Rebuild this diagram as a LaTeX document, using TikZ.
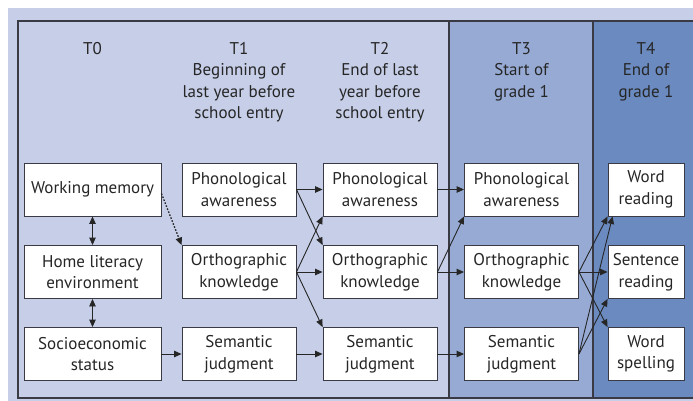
\documentclass[tikz,border=0pt]{standalone}
\usepackage{fontspec}
\setmainfont{PT Sans}
\usepackage{xcolor}
\usepackage{tikz}
\usetikzlibrary{arrows.meta,positioning}

\definecolor{paleblue}{RGB}{198,206,232}
\definecolor{midblue}{RGB}{150,170,212}
\definecolor{deepblue}{RGB}{106,138,192}
\definecolor{frameline}{RGB}{58,58,68}

\begin{document}
\begin{tikzpicture}
[x=1pt,y=-1pt,
 txt/.style={font=\fontsize{17}{21.5}\selectfont,text=black!85,align=center},
 box/.style={txt,rectangle,draw=frameline,line width=0.9pt,fill=white,minimum height=53pt,inner sep=1pt},
 wide/.style={box,minimum width=137pt},
 mid/.style={box,minimum width=114pt},
 slim/.style={box,minimum width=76pt},
 head/.style={txt,anchor=north,inner sep=0pt},
 arr/.style={draw=black!85,line width=0.9pt,-{Triangle[length=7.5pt,width=6.5pt]}},
 twoway/.style={arr,{Triangle[length=7.5pt,width=6.5pt]}-{Triangle[length=7.5pt,width=6.5pt]}}];
\useasboundingbox (0,0) rectangle (693,401);
\fill[paleblue] (8,8) rectangle (693,401);
\fill[midblue] (449,21) rectangle (593,398);
\fill[deepblue] (593,21) rectangle (693,398);
\draw[frameline,line width=1.4pt] (693,21) -- (18,21) -- (18,398) -- (693,398);
\draw[frameline,line width=1.2pt] (449,21) -- (449,398);
\draw[frameline,line width=1.2pt] (593,21) -- (593,398);

% time points
\node[head] (h0) at (92.5,42) {T0};
\node[head] (h1) at (239,42) {T1\\Beginning of\\last year before\\school entry};
\node[head] (h2) at (380,42) {T2\\End of last\\year before\\school entry};
\node[head] (h3) at (521.5,42) {T3\\Start of\\grade 1};
\node[head] (h4) at (646,42) {T4\\End of\\grade 1};

% T0
\node[wide] (wm) at (92.5,189.5) {Working memory};
\node[wide] (hl) at (92.5,272) {Home literacy\\environment};
\node[wide] (ses) at (92.5,354) {Socioeconomic\\status};
% T1
\node[mid] (pa1) at (239,189.5) {Phonological\\awareness};
\node[mid] (ok1) at (239,272) {Orthographic\\knowledge};
\node[mid] (sj1) at (239,354) {Semantic\\judgment};
% T2
\node[mid] (pa2) at (380,189.5) {Phonological\\awareness};
\node[mid] (ok2) at (380,272) {Orthographic\\knowledge};
\node[mid] (sj2) at (380,354) {Semantic\\judgment};
% T3
\node[mid] (pa3) at (521.5,189.5) {Phonological\\awareness};
\node[mid] (ok3) at (521.5,272) {Orthographic\\knowledge};
\node[mid] (sj3) at (521.5,354) {Semantic\\judgment};
% T4
\node[slim] (wr) at (646,189.5) {Word\\reading};
\node[slim] (sr) at (646,272) {Sentence\\reading};
\node[slim] (ws) at (646,354) {Word\\spelling};

\draw[twoway] (wm) -- (hl);
\draw[twoway] (hl) -- (ses);
\draw[arr,line width=1.3pt,dash pattern=on 1.6pt off 1.6pt] ([yshift=-4pt]wm.east) -- (ok1.north west);
\draw[arr] (ses) -- (sj1);

\draw[arr] (pa1) -- (pa2);
\draw[arr] (pa1.east) -- (ok2.north west);
\draw[arr] (ok1.east) -- (pa2.south west);
\draw[arr] (ok1) -- (ok2);
\draw[arr] (ok1.east) -- (sj2.north west);
\draw[arr] (sj1) -- (sj2);

\draw[arr] (pa2) -- (pa3);
\draw[arr] (ok2.east) -- (pa3.south west);
\draw[arr] (ok2) -- (ok3);
\draw[arr] (sj2) -- (sj3);

\draw[arr] (ok3.east) -- (wr.south west);
\draw[arr] (ok3) -- (sr);
\draw[arr] (ok3.east) -- (ws.north west);
\draw[arr] (sj3.east) -- ([xshift=5pt]wr.south west);
\draw[arr] (sj3.east) -- (sr.south west);
\end{tikzpicture}
\end{document}
